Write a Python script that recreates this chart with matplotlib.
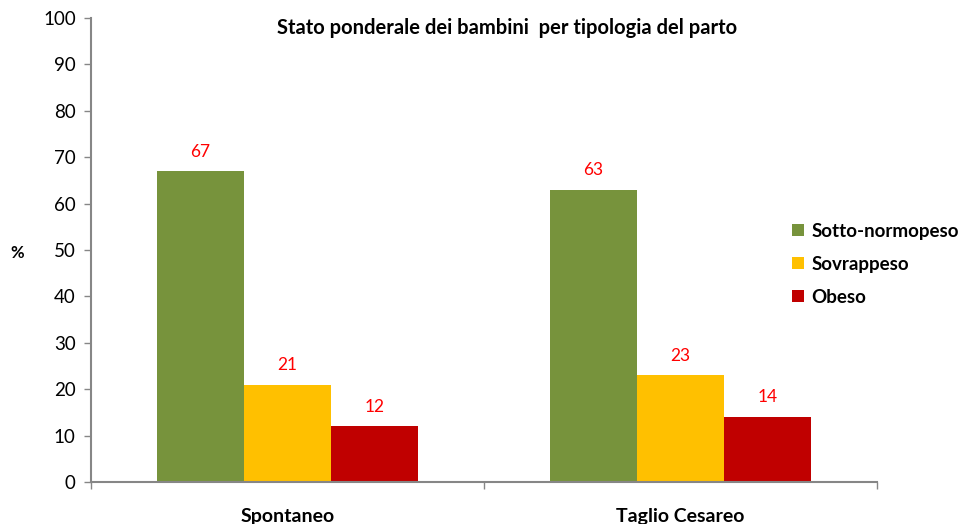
import numpy as np
import matplotlib.pyplot as plt
from matplotlib.patches import Patch

plt.rcParams["font.family"] = ["Lato", "DejaVu Sans"]

categories = ["Spontaneo", "Taglio Cesareo"]
series_names = ["Sotto-normopeso", "Sovrappeso", "Obeso"]
values = {
    "Sotto-normopeso": [67, 63],
    "Sovrappeso": [21, 23],
    "Obeso": [12, 14],
}
colors = ["#77933C", "#FFC000", "#C00000"]
yticks = list(range(0, 101, 10))

fig = plt.figure(figsize=(9.6, 5.24), dpi=100)
ax = fig.add_axes([0.0948, 0.0802, 0.8187, 0.8854])

x = np.arange(len(categories))
width = 0.222
for i, name in enumerate(series_names):
    pos = x + (i - 1) * width
    bars = ax.bar(pos, values[name], width=width, color=colors[i], edgecolor="none")
    for b, v in zip(bars, values[name]):
        ax.text(b.get_x() + b.get_width() / 2, v + 2.5, str(v),
                ha="center", va="bottom", color="#FF0000", fontsize=12.5)

ax.set_xlim(-0.5, 1.5)
ax.set_ylim(0, 100)
ax.set_yticks(yticks)
ax.set_yticklabels([str(t) for t in yticks], fontsize=13.5)
ax.set_xticks([-0.5, 0.5, 1.5], minor=False)
ax.set_xticklabels([])
ax.set_xticks(x, minor=True)
ax.set_xticklabels(categories, minor=True, fontsize=14, fontweight="bold")
ax.tick_params(axis="x", which="minor", length=0, pad=18.5)
ax.tick_params(axis="x", which="major", length=5, color="#868686", width=1)
ax.tick_params(axis="y", length=5, color="#868686", width=1, pad=6)

for s in ["top", "right"]:
    ax.spines[s].set_visible(False)
for s in ["left", "bottom"]:
    ax.spines[s].set_color("#868686")
    ax.spines[s].set_linewidth(1.5)

ax.set_title("Stato ponderale dei bambini  per tipologia del parto",
             fontsize=14.5, fontweight="bold", x=0.529, y=0.965, pad=0)

fig.text(0.018, 0.518, "%", fontsize=12, fontweight="bold", ha="center", va="center")

handles = [Patch(facecolor=c, edgecolor="none") for c in colors]
fig.legend(handles, series_names, loc="center left", bbox_to_anchor=(0.825, 0.496),
           frameon=False, prop={"weight": "bold", "size": 13.5},
           handlelength=0.65, handleheight=0.65, handletextpad=0.4, labelspacing=0.85,
           borderpad=0, borderaxespad=0)

fig.savefig("out.png", dpi=100)
